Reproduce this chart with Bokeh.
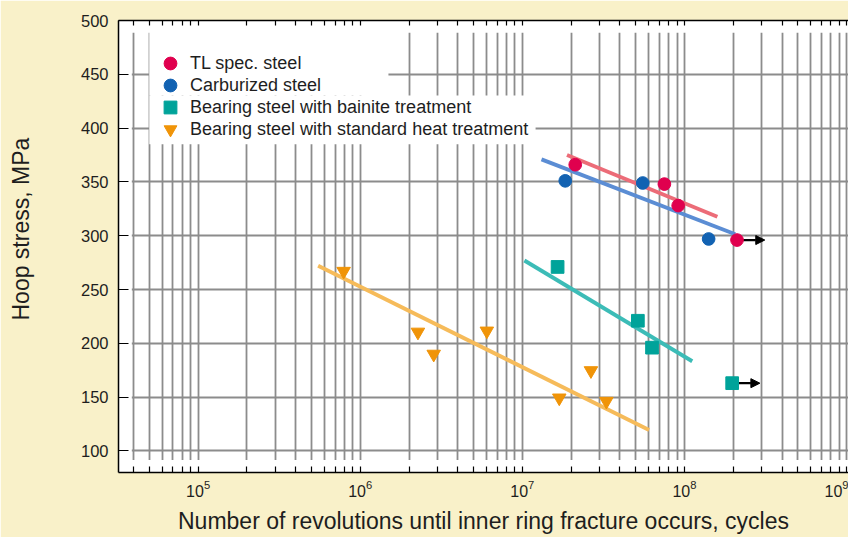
from bokeh.plotting import figure
from bokeh.embed import file_html
from bokeh.resources import INLINE
from bokeh.models import (Range1d, FixedTicker, LogAxis, BoxAnnotation, Title,
                          Legend, LegendItem, Arrow, NormalHead)

# ---------------- data ----------------
tl_x = [2.12e7, 7.52e7, 9.15e7, 2.11e8]
tl_y = [366, 348, 328, 296]
carb_x = [1.84e7, 5.53e7, 1.41e8]
carb_y = [351, 349, 297]
bain_x = [1.65e7, 5.16e7, 6.31e7, 1.97e8]
bain_y = [271, 221, 196, 163]
std_x = [7.9e5, 2.27e6, 2.84e6, 6.04e6, 1.69e7, 2.65e7, 3.30e7]
std_y = [267, 210.5, 190, 211.5, 149.3, 174.7, 146.2]

# fitted lines (end points)
tl_fit_x = [1.886e7, 1.596e8]
tl_fit_y = [375, 317.6]
carb_fit_x = [1.313e7, 2.06e8]
carb_fit_y = [371, 301.4]
bain_fit_x = [1.03e7, 1.117e8]
bain_fit_y = [277, 183.4]
std_fit_x = [5.5e5, 6.05e7]
std_fit_y = [272, 119.6]

# run-outs (no fracture): start cycles, end cycles, stress
runout_x0 = [2.11e8, 1.97e8]
runout_x1 = [3.13e8, 2.92e8]
runout_y = [296, 163]

series_names = ["TL spec. steel", "Carburized steel",
                "Bearing steel with bainite treatment",
                "Bearing steel with standard heat treatment"]

x_major = [1e5, 1e6, 1e7, 1e8, 1e9]
x_minor = [m * 10 ** e for e in range(4, 9) for m in range(2, 10) if m * 10 ** e >= 4e4]
y_ticks = [100, 150, 200, 250, 300, 350, 400, 450, 500]

x_label = "Number of revolutions until inner ring fracture occurs, cycles"
y_label = "Hoop stress, MPa"

# ---------------- styling ----------------
FONT = "Liberation Sans"
TXT = "#1e1e1e"
GRID = "#8c8c8c"
BG = "#f9f1c9"
C_TL, C_TL_L = "#e0004e", "#ec6c78"
C_CB, C_CB_L = "#1262b2", "#5b8dd4"
C_BN, C_BN_L = "#00a39a", "#3cbcb7"
C_ST, C_ST_L = "#f09408", "#f6bb5a"

p = figure(width=848, height=537, x_axis_type="log",
           x_range=Range1d(3.228e4, 1.028e9), y_range=Range1d(80, 500),
           output_backend="svg", toolbar_location=None,
           min_border_left=118, min_border_right=0, min_border_top=20,
           min_border_bottom=65, background_fill_color="white",
           border_fill_color=BG, outline_line_color=None)

xt = FixedTicker(ticks=x_major, minor_ticks=x_minor)
yt = FixedTicker(ticks=y_ticks)

# grid
p.xgrid.ticker = xt
p.xgrid.grid_line_color = GRID
p.xgrid.grid_line_width = 1.8
p.xgrid.minor_grid_line_color = GRID
p.xgrid.minor_grid_line_width = 1.8
p.ygrid.ticker = yt
p.ygrid.grid_line_color = GRID
p.ygrid.grid_line_width = 1.8

# bottom axis
xa = p.xaxis[0]
xa.ticker = xt
xa.major_tick_in = 6
xa.major_tick_out = 0
xa.minor_tick_in = 6
xa.minor_tick_out = 0
xa.axis_line_color = "black"
xa.axis_line_width = 1.5
xa.major_tick_line_color = "black"
xa.minor_tick_line_color = "black"
xa.major_tick_line_width = 1.2
xa.minor_tick_line_width = 1.2
xa.major_label_standoff = 7
xa.major_label_text_font = FONT
xa.major_label_text_font_size = "16px"
xa.major_label_text_color = TXT
xa.axis_label = x_label
xa.axis_label_standoff = 8
xa.axis_label_text_font = FONT
xa.axis_label_text_font_size = "23px"
xa.axis_label_text_font_style = "normal"
xa.axis_label_text_color = TXT

# top axis (ticks only)
ta = LogAxis(ticker=xt, major_tick_in=5, major_tick_out=0, minor_tick_in=5,
             minor_tick_out=0, major_label_overrides={t: "" for t in x_major},
             major_label_standoff=0, axis_line_color="black", axis_line_width=1.5,
             major_tick_line_color="black", minor_tick_line_color="black",
             major_tick_line_width=1.2, minor_tick_line_width=1.2)
p.add_layout(ta, "above")

# left axis (a blank, tiny axis label acts as a spacer before the side title)
ya = p.yaxis[0]
ya.ticker = yt
ya.major_tick_in = 10
ya.major_tick_out = 0
ya.minor_tick_line_color = None
ya.axis_line_color = "black"
ya.axis_line_width = 1.5
ya.major_tick_line_color = "black"
ya.major_tick_line_width = 1.2
ya.major_label_standoff = 10
ya.major_label_text_font = FONT
ya.major_label_text_font_size = "16.5px"
ya.major_label_text_color = TXT
ya.axis_label = " "
ya.axis_label_text_font_size = "1px"
ya.axis_label_standoff = 40

# y title as a side title, shifted up from the frame centre like the reference
p.add_layout(Title(text=y_label, align="left", offset=152, vertical_align="bottom",
                   standoff=0, text_font=FONT, text_font_size="23px",
                   text_font_style="normal", text_color=TXT), "left")

# white masks so grid lines stop short of the frame and behind the legend
for kw in [dict(bottom=488.6), dict(top=91.7), dict(right=3.9e4),
           dict(left=5.0e4, right=1.493e6, bottom=430.2),
           dict(left=5.0e4, right=1.207e7, top=430.2, bottom=385)]:
    p.add_layout(BoxAnnotation(fill_color="white", fill_alpha=1, line_color=None,
                               level="underlay", **kw))

# fitted lines
p.line(tl_fit_x, tl_fit_y, line_color=C_TL_L, line_width=3.9)
p.line(carb_fit_x, carb_fit_y, line_color=C_CB_L, line_width=3.9)
p.line(bain_fit_x, bain_fit_y, line_color=C_BN_L, line_width=3.9)
p.line(std_fit_x, std_fit_y, line_color=C_ST_L, line_width=3.9)

# run-out arrows
for x0, x1, y in zip(runout_x0, runout_x1, runout_y):
    p.add_layout(Arrow(x_start=x0, y_start=y, x_end=x1, y_end=y, line_color="black",
                       line_width=2.2, level="underlay",
                       end=NormalHead(size=9, fill_color="black", line_color="black")))

# markers
r_tl = p.scatter(tl_x, tl_y, marker="circle", size=12.7, fill_color=C_TL, line_color=C_TL)
r_cb = p.scatter(carb_x, carb_y, marker="circle", size=12.7, fill_color=C_CB, line_color=C_CB)
r_bn = p.scatter(bain_x, bain_y, marker="square", size=12.7, fill_color=C_BN, line_color=C_BN)
r_st = p.scatter(std_x, std_y, marker="inverted_triangle", size=13.5, fill_color=C_ST, line_color=C_ST)

# one legend per row so rows can sit closer than the marker box
for i, (n, r) in enumerate(zip(series_names, [r_tl, r_cb, r_bn, r_st])):
    lg = Legend(items=[LegendItem(label=n, renderers=[r])],
                location=(32, 393 - 22 * i), padding=0, margin=0, spacing=0,
                glyph_width=40, glyph_height=32, label_height=32, label_standoff=0,
                background_fill_alpha=0, border_line_color=None,
                label_text_font=FONT, label_text_font_size="18px",
                label_text_color=TXT)
    p.add_layout(lg)

open("out.html", "w").write(file_html(p, INLINE))
